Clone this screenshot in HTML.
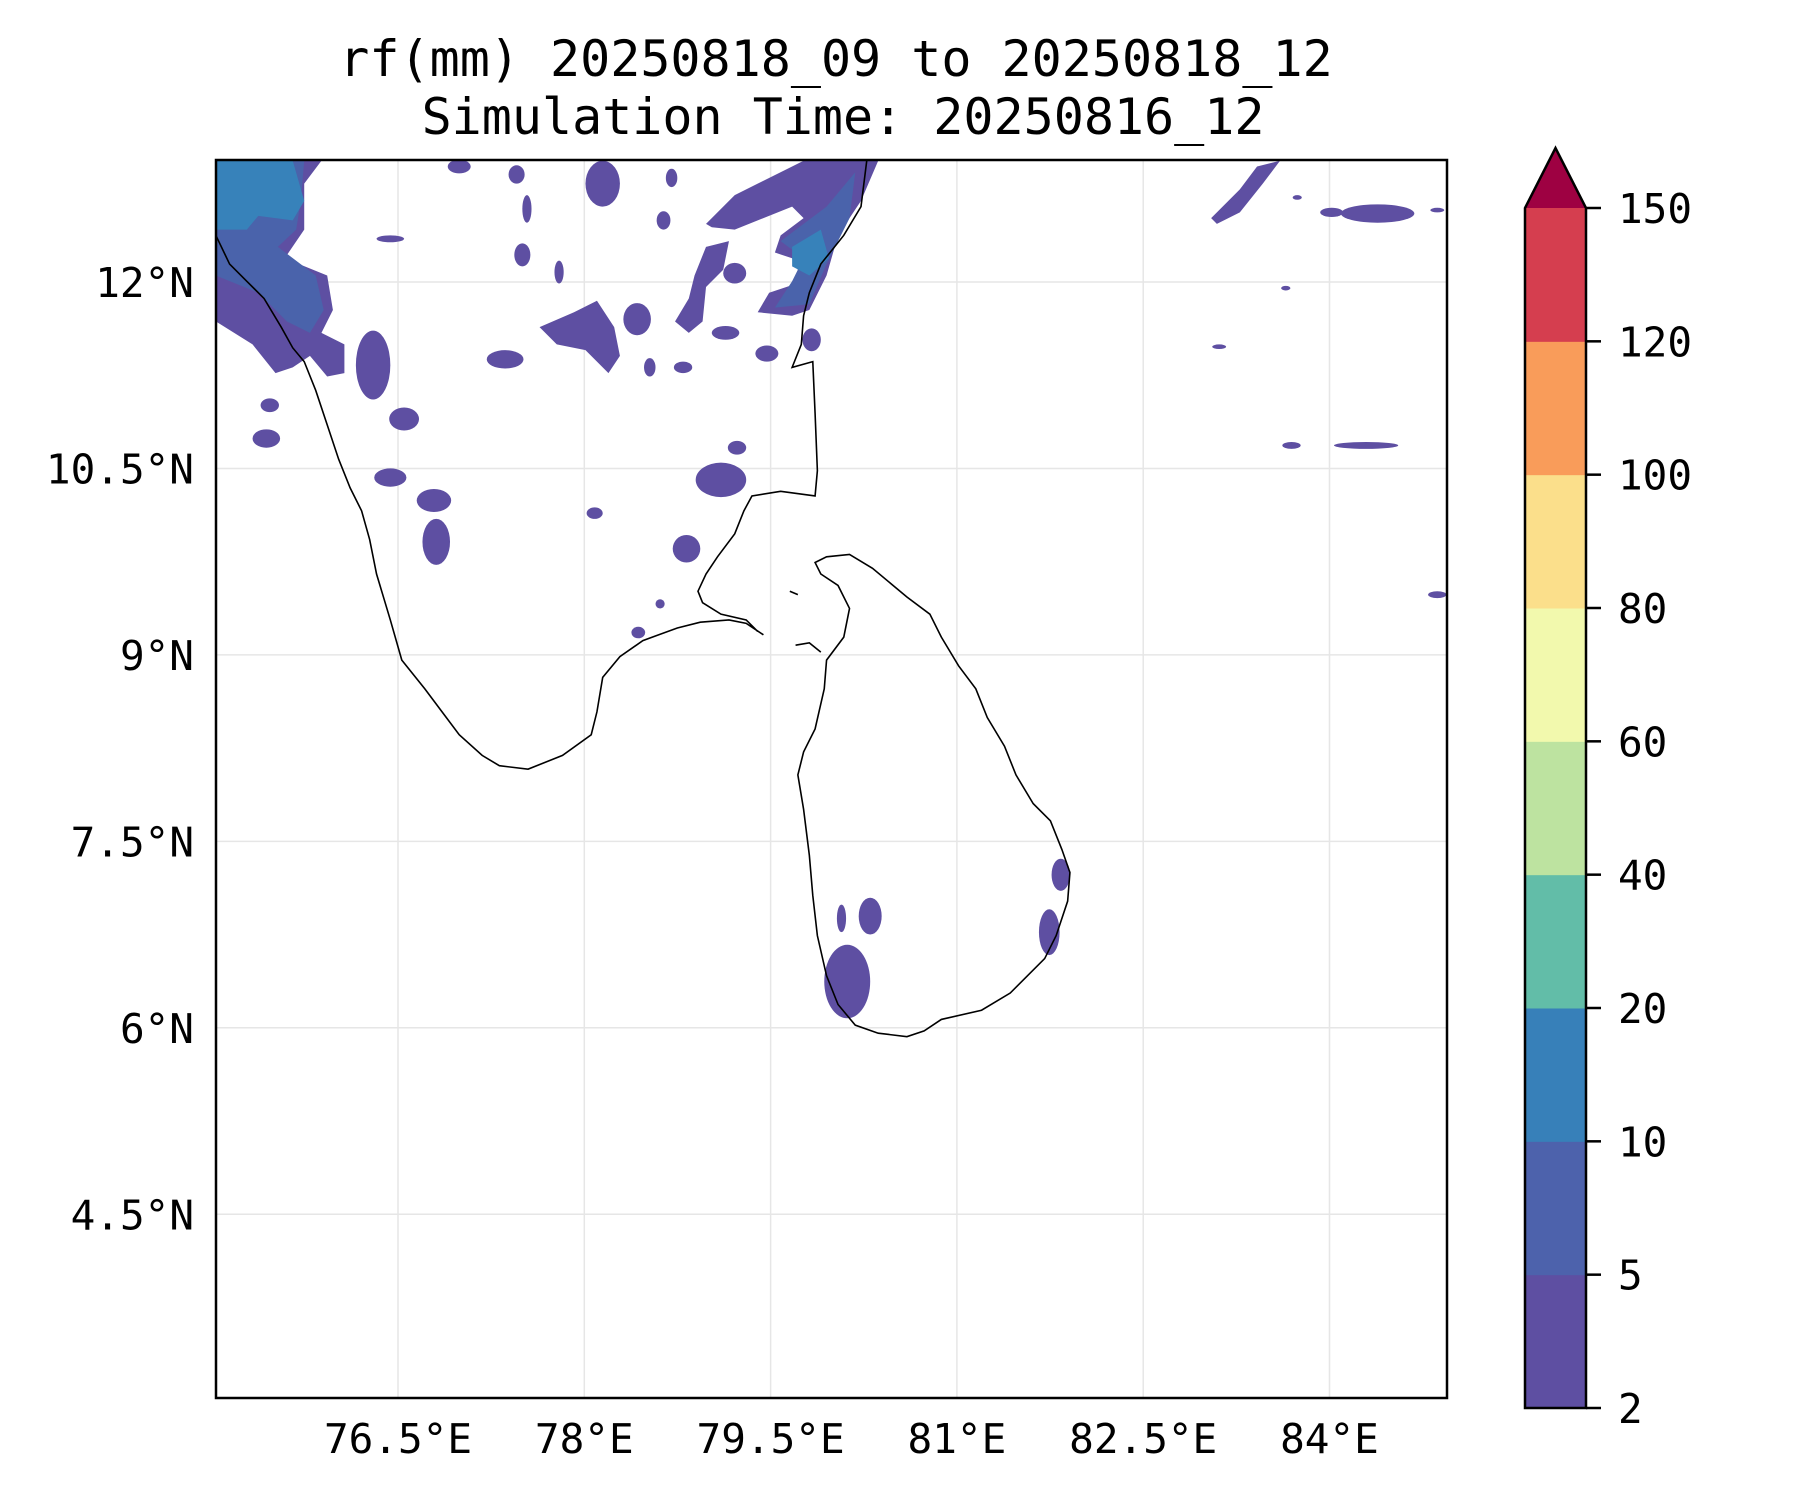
<!DOCTYPE html>
<html><head><meta charset="utf-8"><style>
html,body{margin:0;padding:0;background:#fff}
svg text{font-family:"DejaVu Sans Mono","Liberation Mono",monospace;fill:#000}
</style></head><body>
<svg width="1800" height="1500" viewBox="0 0 1800 1500" xmlns="http://www.w3.org/2000/svg">
<rect width="1800" height="1500" fill="#fff"/>
<text x="836" y="76" font-size="50" text-anchor="middle">rf(mm) 20250818_09 to 20250818_12</text>
<text x="843" y="134" font-size="50" text-anchor="middle">Simulation Time: 20250816_12</text>
<defs><clipPath id="mapclip"><rect x="216" y="160" width="1231" height="1238"/></clipPath></defs>
<g id="grid"></g>
<g clip-path="url(#mapclip)">
<g transform="matrix(1.148 0 0 1.148 0 0)">
<g fill="#5e4fa2">
<path d="M188,140 L280,140 265,160 265,200 248,225 285,240 290,270 280,290 300,300 300,325 285,328 270,310 255,320 240,325 220,300 188,280Z"/>
<path d="M470,285 L500,272 520,262 535,285 540,310 530,325 510,305 485,300Z"/>
<path d="M615,195 L640,170 660,160 690,145 700,140 765,140 750,175 730,205 720,240 705,270 690,275 660,272 670,255 700,245 690,225 675,220 680,205 700,190 690,180 665,190 640,200 620,198Z"/>
<path d="M605,240 L615,215 635,210 630,235 615,250 612,280 600,290 588,280 600,260Z"/>
<path d="M1055,190 L1080,165 1095,145 1115,140 1100,160 1080,185 1060,195Z"/>
<ellipse cx="555" cy="278" rx="12" ry="14"/><ellipse cx="640" cy="238" rx="10" ry="9"/>
<ellipse cx="325" cy="318" rx="15" ry="30"/><ellipse cx="352" cy="365" rx="13" ry="10"/>
<ellipse cx="378" cy="436" rx="15" ry="10"/><ellipse cx="380" cy="472" rx="12" ry="20"/>
<ellipse cx="440" cy="313" rx="16" ry="8"/><ellipse cx="595" cy="320" rx="8" ry="5"/>
<ellipse cx="668" cy="308" rx="10" ry="7"/><ellipse cx="628" cy="418" rx="22" ry="15"/>
<ellipse cx="598" cy="478" rx="12" ry="12"/><ellipse cx="518" cy="447" rx="7" ry="5"/>
<ellipse cx="525" cy="160" rx="15" ry="20"/><ellipse cx="459" cy="182" rx="4" ry="12"/>
<ellipse cx="450" cy="152" rx="7" ry="8"/><ellipse cx="455" cy="222" rx="7" ry="10"/>
<ellipse cx="487" cy="237" rx="4" ry="10"/><ellipse cx="340" cy="208" rx="12" ry="3"/>
<ellipse cx="400" cy="145" rx="10" ry="6"/><ellipse cx="585" cy="155" rx="5" ry="8"/>
<ellipse cx="578" cy="192" rx="6" ry="8"/><ellipse cx="1200" cy="186" rx="32" ry="8"/>
<ellipse cx="1160" cy="185" rx="10" ry="4"/><ellipse cx="1190" cy="388" rx="28" ry="3"/>
<ellipse cx="1125" cy="388" rx="8" ry="3"/><ellipse cx="1062" cy="302" rx="6" ry="2"/>
<ellipse cx="1252" cy="518" rx="8" ry="3"/><ellipse cx="1252" cy="183" rx="6" ry="2"/>
<ellipse cx="340" cy="416" rx="14" ry="8"/><ellipse cx="232" cy="382" rx="12" ry="8"/>
<ellipse cx="235" cy="353" rx="8" ry="6"/><ellipse cx="738" cy="855" rx="20" ry="32"/>
<ellipse cx="758" cy="798" rx="10" ry="16"/><ellipse cx="733" cy="800" rx="4" ry="12"/>
<ellipse cx="924" cy="762" rx="8" ry="14"/><ellipse cx="914" cy="812" rx="9" ry="20"/>
<ellipse cx="707" cy="296" rx="8" ry="10"/><ellipse cx="642" cy="390" rx="8" ry="6"/>
<ellipse cx="556" cy="551" rx="6" ry="5"/><ellipse cx="575" cy="526" rx="4" ry="4"/>
<ellipse cx="1120" cy="251" rx="4" ry="2"/><ellipse cx="1130" cy="172" rx="4" ry="2"/>
<ellipse cx="632" cy="290" rx="12" ry="6"/><ellipse cx="566" cy="320" rx="5" ry="8"/>
</g>
<path fill="#4a63ab" d="M188,140 L265,140 262,175 258,200 242,215 275,240 282,270 270,290 250,280 225,255 188,240Z"/>
<path fill="#4a63ab" d="M680,210 L720,180 745,150 740,190 720,230 705,265 675,268 690,245 700,225Z"/>
<path fill="#3782ba" d="M188,140 L255,140 265,175 255,192 225,188 215,200 188,200Z"/>
<path fill="#3782ba" d="M690,215 L715,200 722,225 705,240 690,232Z"/>
</g>
<g transform="matrix(1.148 0 0 1.148 0 0)" fill="none" stroke="#000">
<path vector-effect="non-scaling-stroke" stroke-width="1.6" d="M188,205 L200,230 215,245 230,260 245,285 255,303 265,315 275,340 285,370 295,400 305,425 315,445 322,470 328,500 340,540 350,575 370,600 385,620 400,640 420,658 435,667 460,670 490,658 515,640 520,620 525,590 540,572 560,558 590,547 610,542 635,540 650,543 665,553 M660,550 L650,540 628,535 612,525 608,515 615,500 625,485 640,465 648,445 655,432 680,428 710,432 712,410 710,360 708,315 690,320 698,300 700,275 705,255 715,230 735,205 750,180 755,140"/>
<path vector-effect="non-scaling-stroke" stroke-width="1.6" d="M710,490 L720,485 740,483 760,495 790,520 810,535 820,555 835,580 850,600 860,625 875,650 885,675 900,700 915,715 925,740 932,760 930,785 920,815 910,835 880,865 855,880 820,888 805,898 790,903 765,900 745,893 730,875 720,850 712,815 708,780 705,745 700,705 695,675 700,655 710,635 718,600 720,575 735,555 740,530 730,510 715,500Z"/>
<path vector-effect="non-scaling-stroke" stroke-width="1.6" d="M693,562 L705,560 715,568 M688,515 L695,518"/>
</g>
</g>
<rect x="216" y="160" width="1231" height="1238" fill="none" stroke="#000" stroke-width="2.5"/>
<g id="xticks"></g>
<g id="yticks"></g>
<g id="cbar"></g>
<script>
const lonTicks=[76.5,78,79.5,81,82.5,84];
const lonLabels=["76.5°E","78°E","79.5°E","81°E","82.5°E","84°E"];
const latTicks=[12,10.5,9,7.5,6,4.5];
const latLabels=["12°N","10.5°N","9°N","7.5°N","6°N","4.5°N"];
const levels=[2,5,10,20,40,60,80,100,120,150];
const levelColors=["#5e4fa2","#4d62ac","#3780b9","#62bda8","#bde3a0","#f2f9ad","#fbdf8b","#f99c5a","#d53e4f"];
const extendColor="#9e0142";
const NS="http://www.w3.org/2000/svg";
function xLon(v){return 398+(v-76.5)*124.2;}
function yLat(v){return 282-(v-12)*124.3;}
function mk(t,a,p){const e=document.createElementNS(NS,t);for(const k in a)e.setAttribute(k,a[k]);p.appendChild(e);return e;}
const gridG=document.getElementById('grid'),xtG=document.getElementById('xticks'),ytG=document.getElementById('yticks'),cbG=document.getElementById('cbar');
lonTicks.forEach((v,i)=>{const x=xLon(v);
const g=mk('line',{x1:x,x2:x,y1:160,y2:1398,stroke:'#e6e6e6','stroke-width':1.5},gridG);


const t=mk('text',{x:x,y:1453,'font-size':41,'text-anchor':'middle'},xtG);t.textContent=lonLabels[i];

});
latTicks.forEach((v,i)=>{const y=yLat(v);
const g=mk('line',{x1:216,x2:1447,y1:y,y2:y,stroke:'#e6e6e6','stroke-width':1.5},gridG);


const t=mk('text',{x:194,y:y+15,'font-size':41,'text-anchor':'end'},ytG);t.textContent=latLabels[i];

});
const cbX=1525,cbW=61,cbTop=208,cbBot=1408,cbSeg=(cbBot-cbTop)/(levels.length-1);
function yLev(i){return cbBot-i*cbSeg;}
levelColors.forEach((c,i)=>{const r=mk('rect',{x:cbX,y:yLev(i+1),width:cbW,height:cbSeg+0.5,fill:c},cbG);

});
const tri=mk('polygon',{points:`${cbX},${cbTop} ${cbX+cbW/2},${cbTop-60} ${cbX+cbW},${cbTop}`,fill:extendColor},cbG);


mk('path',{d:`M${cbX},${cbBot} L${cbX},${cbTop} L${cbX+cbW/2},${cbTop-60} L${cbX+cbW},${cbTop} L${cbX+cbW},${cbBot}Z`,fill:'none',stroke:'#000','stroke-width':2.5},cbG);
levels.forEach((v,i)=>{const y=yLev(i);
mk('line',{x1:cbX+cbW,x2:cbX+cbW+15,y1:y,y2:y,stroke:'#000','stroke-width':2.5},cbG);
const t=mk('text',{x:1618,y:y+15,'font-size':41},cbG);t.textContent=v;

});
</script>
</svg>
</body></html>
